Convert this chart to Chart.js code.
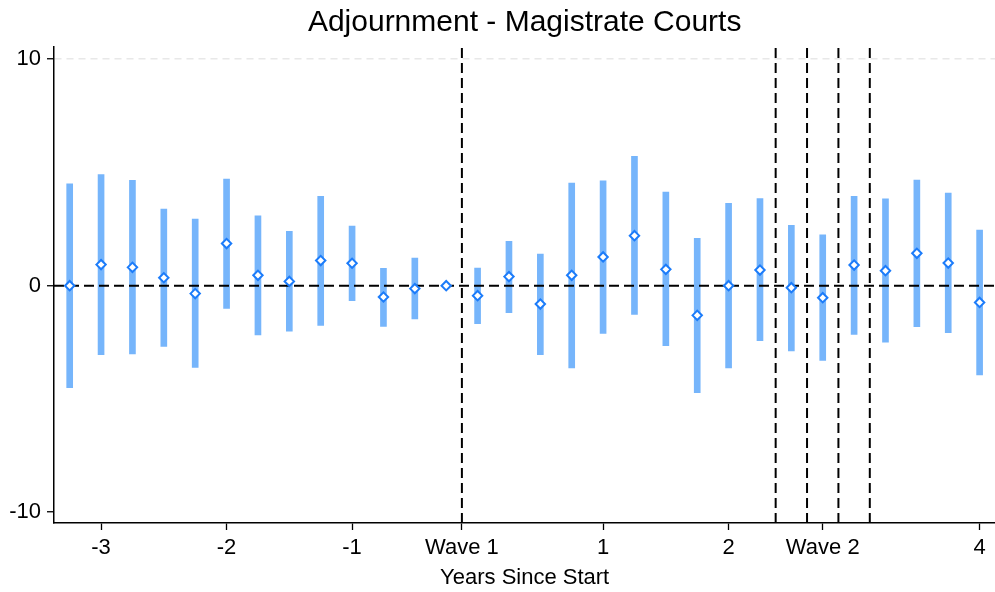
<!DOCTYPE html>
<html>
<head>
<meta charset="utf-8">
<script src="https://cdn.jsdelivr.net/npm/chart.js@4"></script>
<style>
  body { margin: 0; background: #fff; overflow: hidden; }
  /* slightly wider than the window: chart.js keeps ~7px spare on the right */
  #wrap { width: 1002px; height: 592px; position: relative; }
</style>
</head>
<body>
<div id="wrap"><canvas id="eventChart"></canvas></div>
<script>
// quarters relative to start (years)
const quarters = [-3.25, -3, -2.75, -2.5, -2.25, -2, -1.75, -1.5, -1.25, -1, -0.75, -0.5, -0.25, 0,
  0.25, 0.5, 0.75, 1, 1.25, 1.5, 1.75, 2, 2.25, 2.5, 2.75, 3, 3.25, 3.5, 3.75, 4];
const coef = [0, 0.93, 0.81, 0.35, -0.35, 1.86, 0.46, 0.19, 1.11, 0.99, -0.5, -0.13, 0, -0.44,
  0.4, -0.81, 0.46, 1.27, 2.21, 0.72, -1.31, 0, 0.69, -0.09, -0.53, 0.91, 0.66, 1.43, 1.0, -0.74];
const lower = [-4.5, -3.05, -3.01, -2.68, -3.61, -1.0, -2.17, -2.01, -1.76, -0.66, -1.8, -1.47, 0, -1.68,
  -1.19, -3.05, -3.63, -2.11, -1.27, -2.65, -4.72, -3.63, -2.43, -2.88, -3.3, -2.15, -2.5, -1.81, -2.08, -3.94];
const upper = [4.5, 4.91, 4.65, 3.38, 2.94, 4.71, 3.08, 2.4, 3.95, 2.63, 0.77, 1.22, 0, 0.78,
  1.96, 1.4, 4.53, 4.63, 5.71, 4.13, 2.09, 3.64, 3.85, 2.67, 2.24, 3.95, 3.83, 4.66, 4.09, 2.46];

const tickValues = [-3, -2, -1, -0.125, 1, 2, 2.75, 4];
const tickLabels = ['-3', '-2', '-1', 'Wave 1', '1', '2', 'Wave 2', '4'];
const yTicks = [-10, 0, 10];
const waveLines = [-0.125, 2.375, 2.625, 2.875, 3.125];

const xMin = -3.375, xMax = 4.125;
const yMin = -10.48, yMax = 10.54;

const barColor = 'rgb(118,181,251)';
const markerColor = 'rgb(28,124,250)';
const fontFamily = '"Liberation Sans", Arial, Helvetica, sans-serif';

document.addEventListener('DOMContentLoaded', function () {
  const ctx = document.getElementById('eventChart').getContext('2d');

  const datasets = [];

  datasets.push({
    type: 'scatter',
    label: 'Estimate',
    data: quarters.map((q, i) => ({ x: q, y: coef[i] })),
    pointStyle: 'rectRot',
    pointRadius: 4.7,
    pointBorderWidth: 2,
    borderColor: markerColor,
    backgroundColor: '#ffffff',
    order: 0
  });

  datasets.push({
    type: 'line',
    label: 'zero',
    data: [{ x: xMin, y: 0 }, { x: xMax, y: 0 }],
    borderColor: '#000000',
    borderWidth: 2,
    borderDash: [10, 5],
    pointRadius: 0,
    order: 1
  });

  waveLines.forEach(function (w) {
    datasets.push({
      type: 'line',
      label: 'wave',
      data: [{ x: w, y: yMin }, { x: w, y: yMax }],
      borderColor: '#000000',
      borderWidth: 2,
      borderDash: [10, 5],
      pointRadius: 0,
      order: 2
    });
  });

  datasets.push({
    type: 'bar',
    label: 'CI',
    data: quarters.map((q, i) => ({ x: q, y: [lower[i], upper[i]] })),
    backgroundColor: barColor,
    borderWidth: 0,
    barThickness: 6,
    order: 3
  });

  const config = {
    type: 'bar',
    data: { datasets: datasets },
    options: {
      responsive: true,
      maintainAspectRatio: false,
      animation: false,
      devicePixelRatio: 1,
      layout: { padding: 0 },
      plugins: {
        legend: { display: false },
        tooltip: { enabled: false },
        title: {
          display: true,
          text: 'Adjournment - Magistrate Courts',
          fullSize: false,
          color: '#000',
          font: { family: fontFamily, size: 30, weight: 'normal' },
          padding: { top: 5, bottom: 6 }
        }
      },
      scales: {
        x: {
          type: 'linear',
          min: xMin,
          max: xMax,
          offset: false,
          afterBuildTicks: function (scale) {
            scale.ticks = tickValues.map(v => ({ value: v }));
          },
          afterFit: function (scale) { scale.height = 69; },
          ticks: {
            autoSkip: false,
            maxRotation: 0,
            padding: 5,
            color: '#000',
            font: { family: fontFamily, size: 22 },
            callback: function (value, index) { return tickLabels[index]; }
          },
          grid: {
            offset: false,
            drawOnChartArea: false,
            drawTicks: true,
            tickLength: 7,
            tickColor: '#000',
            tickWidth: 1.3
          },
          border: { color: '#000', width: 1.5 },
          title: {
            display: true,
            text: 'Years Since Start',
            color: '#000',
            font: { family: fontFamily, size: 22 },
            padding: { top: 0, bottom: 1 }
          }
        },
        y: {
          min: yMin,
          max: yMax,
          afterBuildTicks: function (scale) {
            scale.ticks = yTicks.map(v => ({ value: v }));
          },
          afterFit: function (scale) { scale.width = 54; },
          ticks: {
            padding: 6,
            color: '#000',
            font: { family: fontFamily, size: 22 }
          },
          grid: {
            color: c => (c.tick && c.tick.value === 10 ? '#e8e8e8' : 'rgba(0,0,0,0)'),
            lineWidth: 1.5,
            drawTicks: true,
            tickLength: 7,
            tickColor: '#000',
            tickWidth: 1.3
          },
          border: { color: '#000', width: 1.5, dash: [7, 5] }
        }
      }
    }
  };

  new Chart(ctx, config);
});
</script>
</body>
</html>
